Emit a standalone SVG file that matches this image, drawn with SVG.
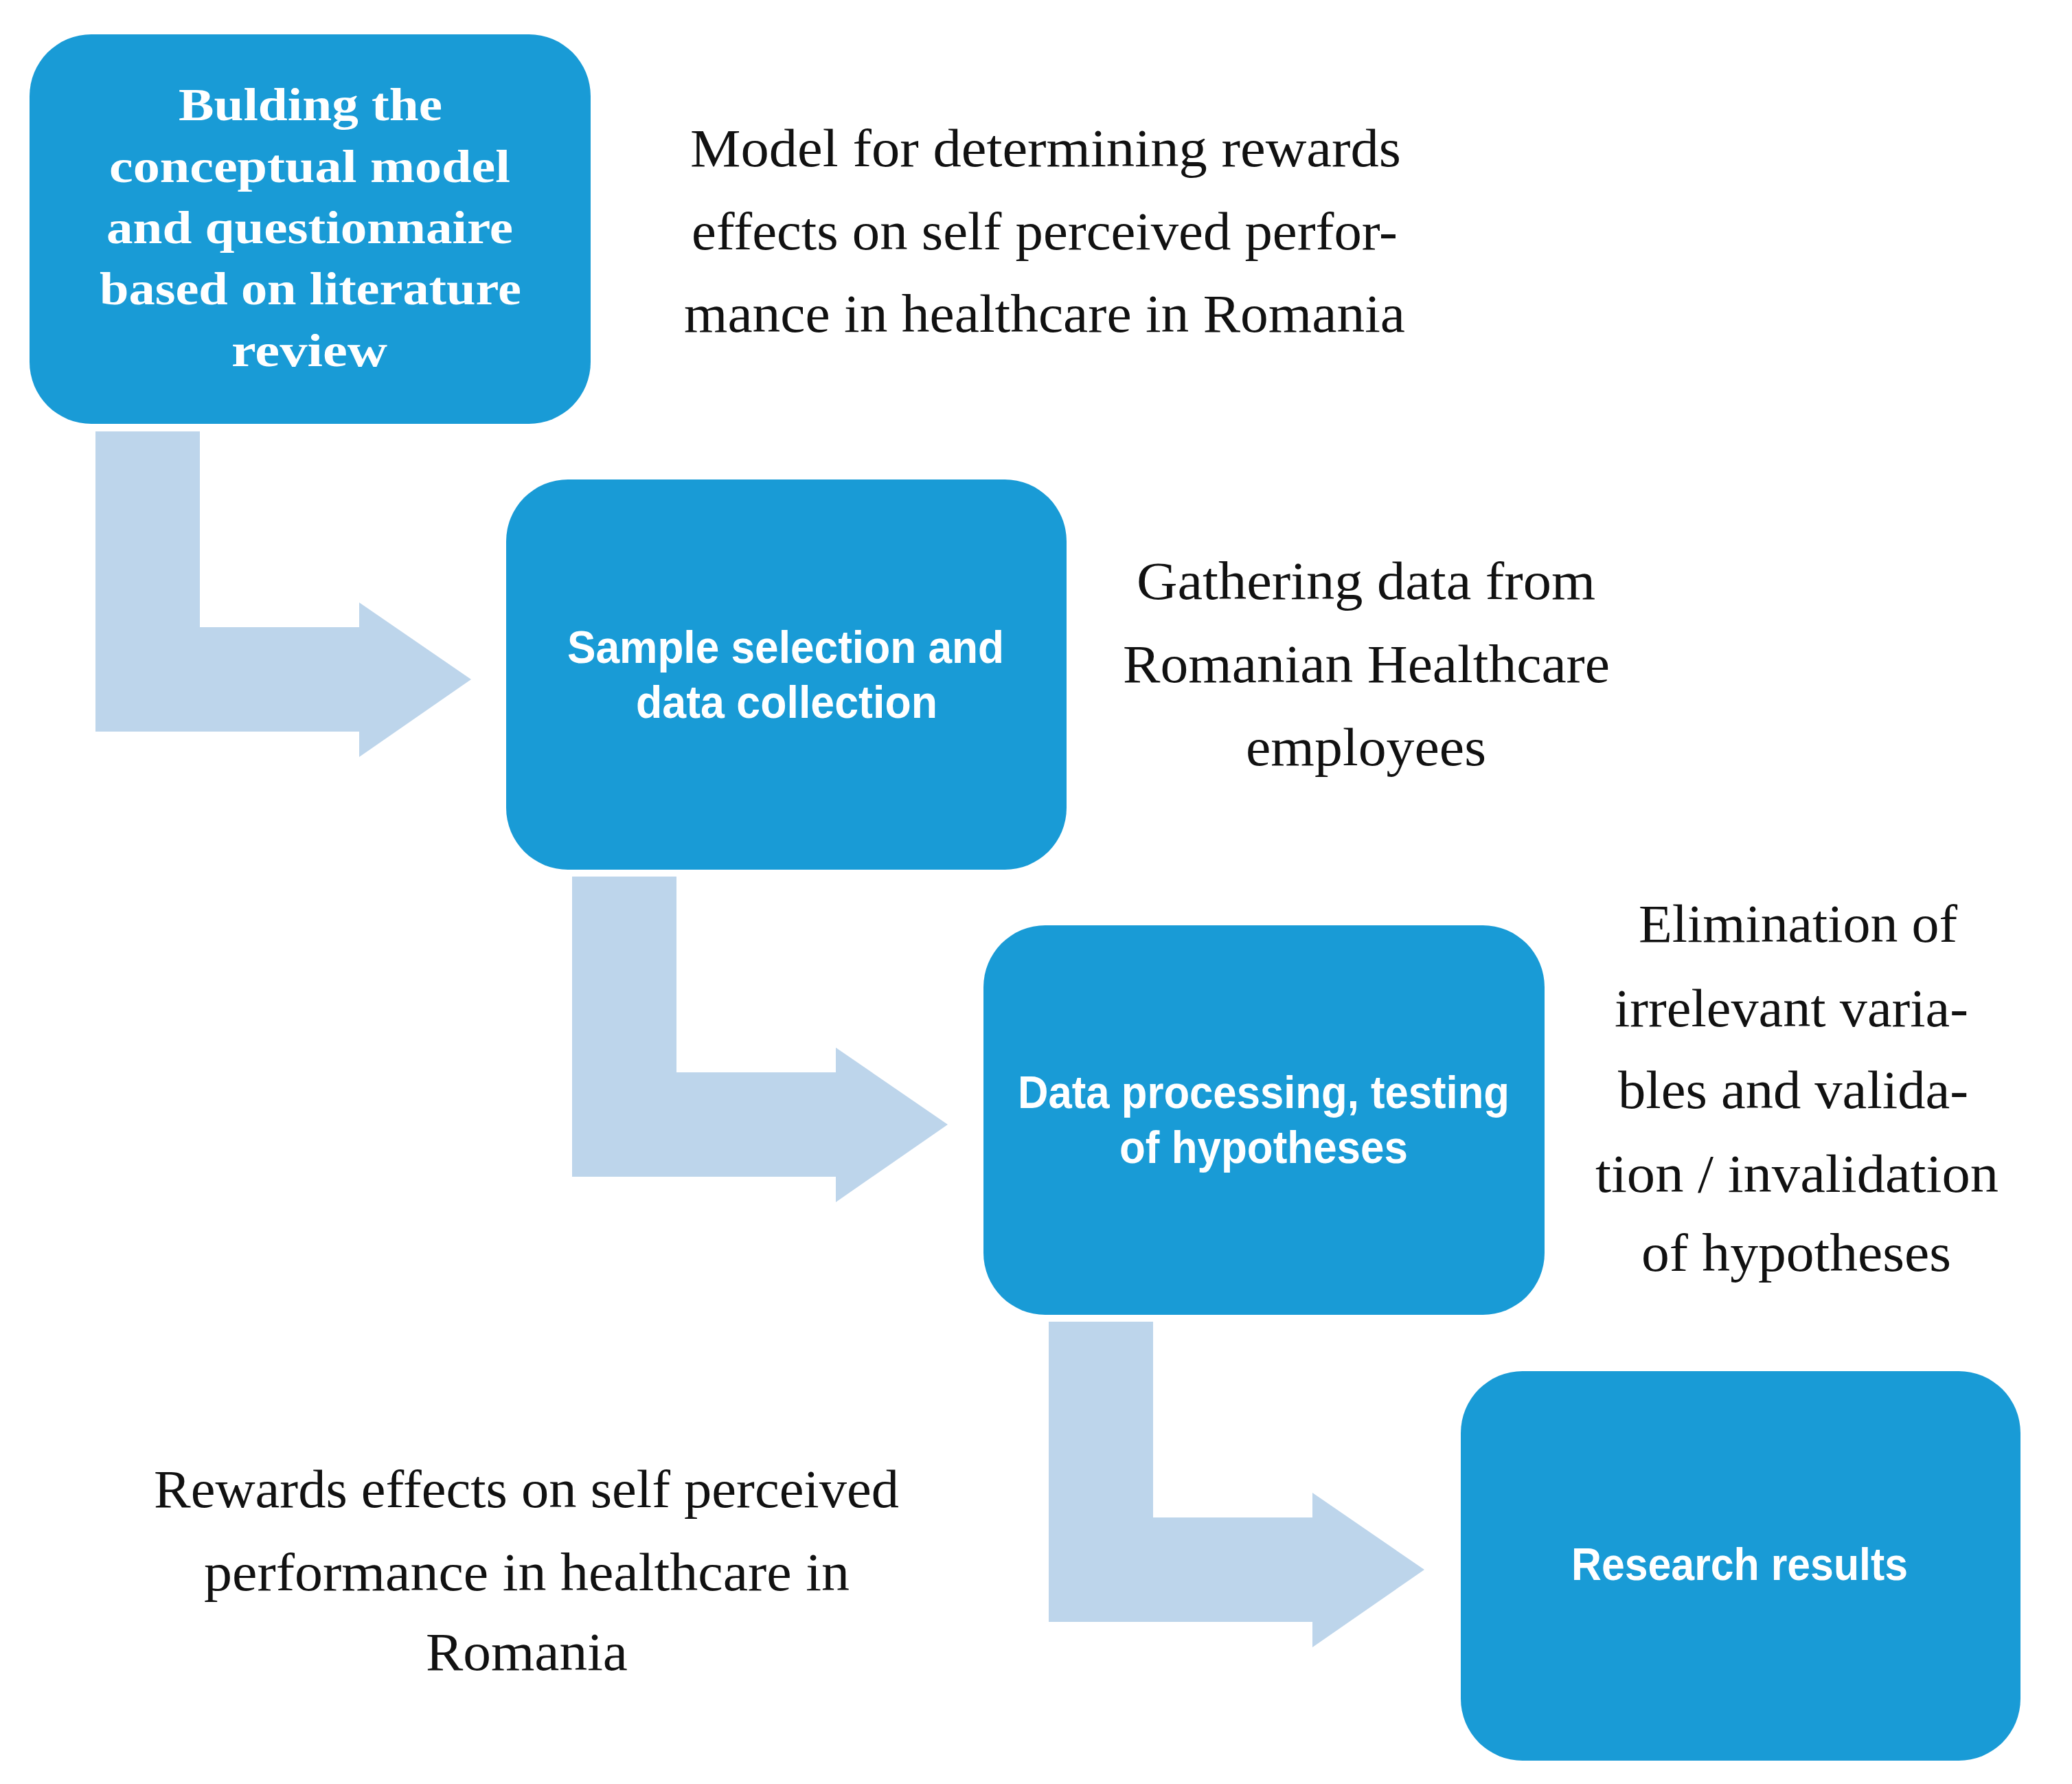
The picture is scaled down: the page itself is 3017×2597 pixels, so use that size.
<svg xmlns="http://www.w3.org/2000/svg" width="3017" height="2597" viewBox="0 0 3017 2597">
<style>
.box{fill:#199BD6;}
.arr{fill:#BDD5EB;}
.t1{font-family:"Liberation Serif","Times New Roman",serif;font-weight:bold;font-size:67px;fill:#ffffff;}
.ts{font-family:"Liberation Sans",Arial,sans-serif;font-weight:bold;font-size:67px;fill:#ffffff;}
.tn{font-family:"Liberation Serif","Times New Roman",serif;font-size:78px;fill:#111111;}
</style>
<rect width="3017" height="2597" fill="#ffffff"/>
<g id="connectors">
<path class="arr" d="M139,628 H291 V913 H523 V877 L686,989 L523,1102 V1065 H139 Z"/>
<path class="arr" d="M833,1276 H985 V1561 H1217 V1525 L1380,1637 L1217,1750 V1713 H833 Z"/>
<path class="arr" d="M1527,1924 H1679 V2209 H1911 V2173 L2074,2285 L1911,2398 V2361 H1527 Z"/>
</g>
<g id="node1">
<rect class="box" x="43" y="50" width="817" height="567" rx="90" ry="90"/>
<text class="t1" x="260" y="175" textLength="384" lengthAdjust="spacingAndGlyphs">Bulding the</text>
<text class="t1" x="159" y="265" textLength="584" lengthAdjust="spacingAndGlyphs">conceptual model</text>
<text class="t1" x="155" y="354" textLength="592" lengthAdjust="spacingAndGlyphs">and questionnaire</text>
<text class="t1" x="145" y="443" textLength="614" lengthAdjust="spacingAndGlyphs">based on literature</text>
<text class="t1" x="337" y="533" textLength="227" lengthAdjust="spacingAndGlyphs">review</text>
</g>
<g id="node2">
<rect class="box" x="737" y="698" width="816" height="568" rx="90" ry="90"/>
<text class="ts" x="826" y="965" textLength="636" lengthAdjust="spacingAndGlyphs">Sample selection and</text>
<text class="ts" x="926" y="1045" textLength="439" lengthAdjust="spacingAndGlyphs">data collection</text>
</g>
<g id="node3">
<rect class="box" x="1432" y="1347" width="817" height="567" rx="90" ry="90"/>
<text class="ts" x="1482" y="1613" textLength="716" lengthAdjust="spacingAndGlyphs">Data processing, testing</text>
<text class="ts" x="1630" y="1693" textLength="420" lengthAdjust="spacingAndGlyphs">of hypotheses</text>
</g>
<g id="node4">
<rect class="box" x="2127" y="1996" width="815" height="567" rx="90" ry="90"/>
<text class="ts" x="2288" y="2300" textLength="490" lengthAdjust="spacingAndGlyphs">Research results</text>
</g>
<g id="note1">
<text class="tn" x="1005" y="242" textLength="1035" lengthAdjust="spacingAndGlyphs">Model for determining rewards</text>
<text class="tn" x="1007" y="363" textLength="1028" lengthAdjust="spacingAndGlyphs">effects on self perceived perfor-</text>
<text class="tn" x="996" y="483" textLength="1050" lengthAdjust="spacingAndGlyphs">mance in healthcare in Romania</text>
</g>
<g id="note2">
<text class="tn" x="1655" y="872" textLength="668" lengthAdjust="spacingAndGlyphs">Gathering data from</text>
<text class="tn" x="1635" y="993" textLength="709" lengthAdjust="spacingAndGlyphs">Romanian Healthcare</text>
<text class="tn" x="1814" y="1114" textLength="350" lengthAdjust="spacingAndGlyphs">employees</text>
</g>
<g id="note3">
<text class="tn" x="2386" y="1371" textLength="464" lengthAdjust="spacingAndGlyphs">Elimination of</text>
<text class="tn" x="2351" y="1494" textLength="515" lengthAdjust="spacingAndGlyphs">irrelevant varia-</text>
<text class="tn" x="2356" y="1613" textLength="510" lengthAdjust="spacingAndGlyphs">bles and valida-</text>
<text class="tn" x="2323" y="1735" textLength="587" lengthAdjust="spacingAndGlyphs">tion / invalidation</text>
<text class="tn" x="2390" y="1850" textLength="451" lengthAdjust="spacingAndGlyphs">of hypotheses</text>
</g>
<g id="note4">
<text class="tn" x="224" y="2194" textLength="1085" lengthAdjust="spacingAndGlyphs">Rewards effects on self perceived</text>
<text class="tn" x="297" y="2315" textLength="940" lengthAdjust="spacingAndGlyphs">performance in healthcare in</text>
<text class="tn" x="620" y="2431" textLength="294" lengthAdjust="spacingAndGlyphs">Romania</text>
</g>
</svg>
